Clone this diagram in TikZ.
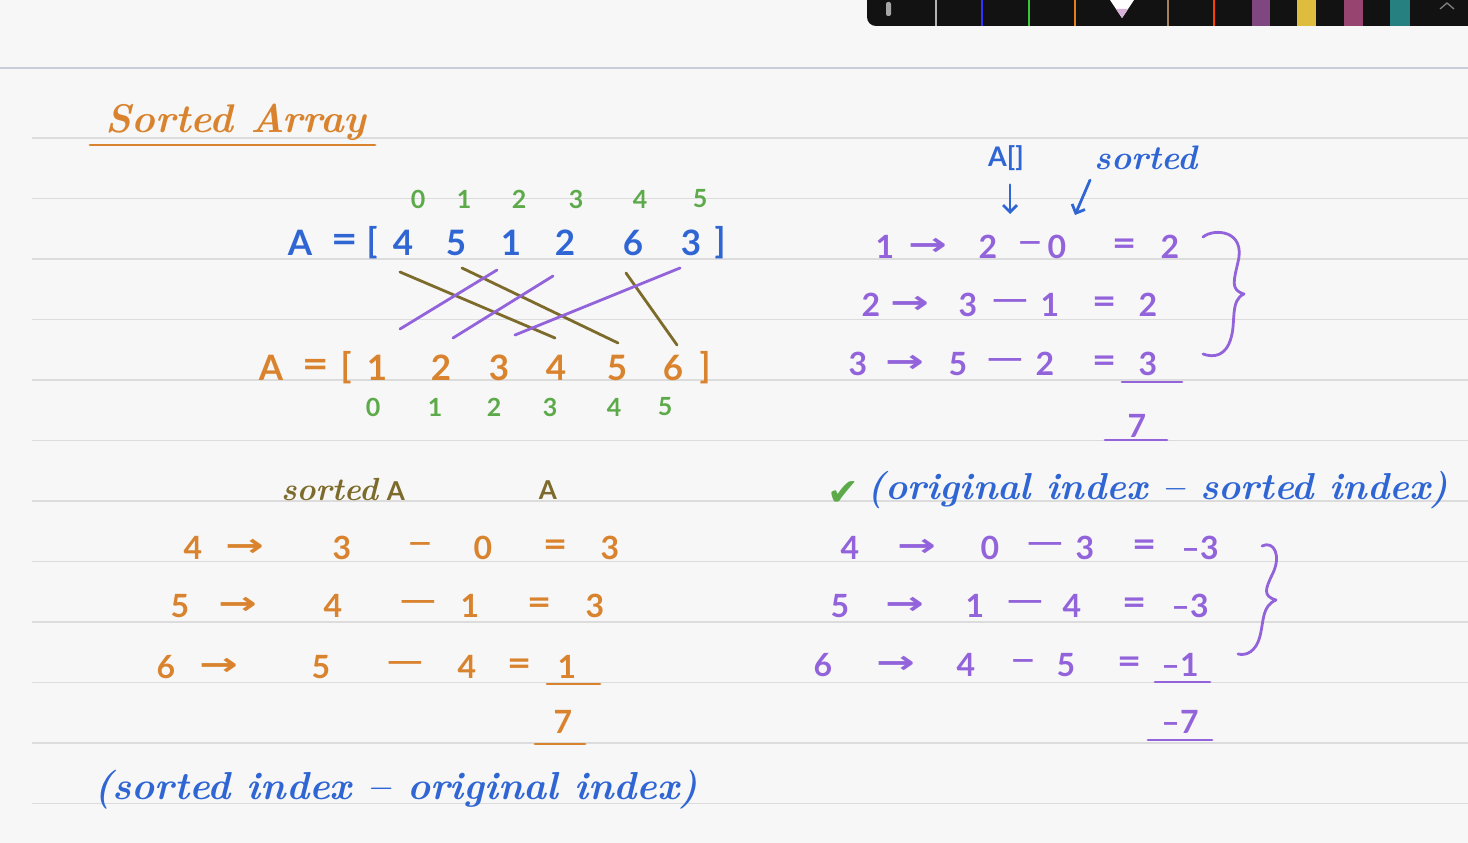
\documentclass[tikz,border=0pt]{standalone}
\usepackage{graphicx}
\usepackage{fontspec}
\newfontfamily\hw{Lato}
\newfontfamily\symf{DejaVu Sans}
\usetikzlibrary{arrows.meta}
\definecolor{bgc}{HTML}{F7F7F7}
\definecolor{rulec}{HTML}{DCDCDC}
\definecolor{topc}{HTML}{C9CCD9}
\definecolor{hblue}{HTML}{2F66D4}
\definecolor{horange}{HTML}{D9832E}
\definecolor{hgreen}{HTML}{5DAA4B}
\definecolor{hpurple}{HTML}{9263DA}
\definecolor{holive}{HTML}{7C6B2B}
\newcommand\harr{\scalebox{1.45}[1]{\symf →}}
\newcommand\hdsh{\scalebox{1.5}[1]{–}}
\newcommand\hDsh{\scalebox{1.5}[1]{—}}
\newcommand\heq{\scalebox{1.3}[1.1]{=}}
\tikzset{
  num/.style={font=\hw\bfseries\fontsize{32}{36}\selectfont, inner sep=0pt},
  big/.style={font=\hw\bfseries\fontsize{35}{40}\selectfont, inner sep=0pt},
  idx/.style={font=\hw\bfseries\fontsize{25}{30}\selectfont, inner sep=0pt, text=hgreen},
  curs/.style={font=\bfseries\itshape\fontsize{#1}{#1}\selectfont, inner sep=0pt},
  ul/.style={line width=2.8pt, line cap=round},
  strike/.style={line width=2.8pt, line cap=round},
  brace/.style={line width=2.8pt, line cap=round, line join=round},
  barrow/.style={line width=2.8pt, line cap=round, hblue, -{Straight Barb[length=7pt,width=14pt,line width=2.8pt]}},
}
\begin{document}
\begin{tikzpicture}[x=1pt,y=-1pt]
\useasboundingbox (0,0) rectangle (1468,843);
\fill[bgc] (0,0) rectangle (1468,843);
\draw[topc, line width=1.2pt] (0,68) -- (1468,68);
\foreach \k in {0,...,11} \draw[rulec, line width=1.2pt] (32,{138+60.5*\k}) -- (1468,{138+60.5*\k});
% toolbar
\fill[black!93, rounded corners=9pt] (867,-12) rectangle (1480,26);
\fill[gray!70, rounded corners=2pt] (886,2) rectangle (891,16);
\foreach \x/\c in {936/gray!60, 982/blue!80!white, 1029/green!55!gray, 1075/orange!80!gray, 1168/brown!60!gray, 1214/red!50!orange} \draw[\c, line width=1.3pt] (\x,0) -- (\x,26);
\fill[white] (1110,0) -- (1134,0) -- (1122,18) -- cycle;
\fill[violet!30] (1116,9) -- (1128,9) -- (1122,18) -- cycle;
\fill[violet!45!gray] (1252,0) rectangle (1270,26);
\fill[yellow!45!brown] (1297,0) rectangle (1316,26);
\fill[magenta!55!black] (1344,0) rectangle (1363,26);
\fill[teal!70!gray] (1390,0) rectangle (1410,26);
\draw[gray, line width=1.3pt] (1440,9) -- (1447,3) -- (1454,9);
% title
\node[curs=40, text=horange] (title) at (236,122) {Sorted Array};
\draw[ul, horange] (90,145) -- (375,145);
% top array
\foreach \x/\t/\n in {300/A/tA, 345/\heq/teq, 372/[/tlb, 403/4/t4, 456/5/t5, 511/1/t1, 565/2/t2, 633/6/t6, 691/3/t3, 720/]/trb}
  \node[big, text=hblue] (\n) at (\x,243) {\t};
\foreach \x/\t/\n in {418/0/ti0, 464/1/ti1, 519/2/ti2, 576/3/ti3, 640/4/ti4, 700/5/ti5}
  \node[idx] (\n) at (\x,199) {\t};
% sorted array
\foreach \x/\t/\n in {271/A/bA, 316/\heq/beq, 346/[/blb, 377/1/b1, 441/2/b2, 499/3/b3, 556/4/b4, 617/5/b5, 673/6/b6, 705/]/brb}
  \node[big, text=horange] (\n) at (\x,368) {\t};
\foreach \x/\t/\n in {373/0/bi0, 435/1/bi1, 494/2/bi2, 550/3/bi3, 614/4/bi4, 665/5/bi5}
  \node[idx] (\n) at (\x,407) {\t};
% mapping lines
\draw[strike, holive] ([shift={(-3,29)}]t4.center) -- ([shift={(-1,-30)}]b4.center);
\draw[strike, holive] ([shift={(6,25)}]t5.center) -- ([shift={(1,-25)}]b5.center);
\draw[strike, holive] ([shift={(-7,30)}]t6.center) -- ([shift={(4,-23)}]b6.center);
\draw[strike, hpurple] ([shift={(-14,27)}]t1.center) -- ([shift={(23,-39)}]b1.center);
\draw[strike, hpurple] ([shift={(-12,33)}]t2.center) -- ([shift={(12,-30)}]b2.center);
\draw[strike, hpurple] ([shift={(-11,25)}]t3.center) -- ([shift={(16,-33)}]b3.center);
% right top
\node[font=\hw\bfseries\fontsize{27}{30}\selectfont, inner sep=0pt, text=hblue] (aidx) at (1006,158) {A[]};
\node[curs=34, text=hblue] (srt) at (1146,158) {sorted};
\foreach \x/\t/\n in {885/1/p1a, 928/\harr/p1b, 988/2/p1c, 1030/\hdsh/p1d, 1057/0/p1e, 1125/\heq/p1f, 1170/2/p1g}
  \node[num, text=hpurple] (\n) at (\x,247) {\t};
\foreach \x/\t/\n in {871/2/p2a, 910/\harr/p2b, 968/3/p2c, 1010/\hDsh/p2d, 1050/1/p2e, 1105/\heq/p2f, 1148/2/p2g}
  \node[num, text=hpurple] (\n) at (\x,305) {\t};
\foreach \x/\t/\n in {858/3/p3a, 905/\harr/p3b, 958/5/p3c, 1005/\hDsh/p3d, 1045/2/p3e, 1105/\heq/p3f, 1148/3/p3g}
  \node[num, text=hpurple] (\n) at (\x,364) {\t};
\node[num, text=hpurple] (p4) at (1137,426) {7};
\draw[ul, hpurple] (1122,382) -- (1182,382);
\draw[ul, hpurple] (1105,440) -- (1167,440);
\draw[barrow] ([shift={(4,14)}]aidx.south) -- ([shift={(22,-33)}]p1c.center);
\draw[barrow] ([shift={(-56,10)}]srt.south) -- ([shift={(18,-32)}]p1e.center);
\draw[brace, hpurple] (1203,237) .. controls (1214,228) and (1246,230) .. (1238,262)
  .. controls (1234,280) and (1230,290) .. (1244,294)
  .. controls (1230,300) and (1236,322) .. (1231,338)
  .. controls (1226,356) and (1214,358) .. (1203,354);
% bottom left
\node[inner sep=0pt, text=holive] (sa) at (343,490) {{\bfseries\itshape\fontsize{32}{32}\selectfont sorted}\hspace{9pt}{\hw\bfseries\fontsize{26}{30}\selectfont A}};
\node[font=\hw\bfseries\fontsize{26}{30}\selectfont, inner sep=0pt, text=holive] (sa2) at (548,490) {A};
\foreach \x/\t/\n in {193/4/o1a, 245/\harr/o1b, 342/3/o1c, 420/\hdsh/o1d, 483/0/o1e, 556/\heq/o1f, 610/3/o1g}
  \node[num, text=horange] (\n) at (\x,548) {\t};
\foreach \x/\t/\n in {180/5/o2a, 238/\harr/o2b, 333/4/o2c, 418/\hDsh/o2d, 470/1/o2e, 540/\heq/o2f, 595/3/o2g}
  \node[num, text=horange] (\n) at (\x,606) {\t};
\foreach \x/\t/\n in {166/6/o3a, 219/\harr/o3b, 321/5/o3c, 405/\hDsh/o3d, 467/4/o3e, 520/\heq/o3f, 567/1/o3g}
  \node[num, text=horange] (\n) at (\x,667) {\t};
\node[num, text=horange] (o4) at (563,722) {7};
\draw[ul, horange] (547,684) -- (600,684);
\draw[ul, horange] (535,744) -- (585,744);
\node[curs=39, text=hblue] (si) at (396,790) {(sorted index -- original index)};
% bottom right
\node[font=\symf\fontsize{38}{42}\selectfont, inner sep=0pt, text=hgreen] (chk) at (843,494) {✔};
\node[curs=37.5, text=hblue] (oi) at (1158,490) {(original index -- sorted index)};
\foreach \x/\t/\n in {850/4/q1a, 917/\harr/q1b, 990/0/q1c, 1045/\hDsh/q1d, 1085/3/q1e, 1145/\heq/q1f, 1200/–3/q1g}
  \node[num, text=hpurple] (\n) at (\x,548) {\t};
\foreach \x/\t/\n in {840/5/q2a, 905/\harr/q2b, 975/1/q2c, 1025/\hDsh/q2d, 1072/4/q2e, 1135/\heq/q2f, 1190/–3/q2g}
  \node[num, text=hpurple] (\n) at (\x,606) {\t};
\foreach \x/\t/\n in {823/6/q3a, 896/\harr/q3b, 966/4/q3c, 1023/\hdsh/q3d, 1066/5/q3e, 1130/\heq/q3f, 1180/–1/q3g}
  \node[num, text=hpurple] (\n) at (\x,665) {\t};
\node[num, text=hpurple] (q4) at (1180,722) {–7};
\draw[ul, hpurple] (1155,682) -- (1210,682);
\draw[ul, hpurple] (1148,740) -- (1212,740);
\draw[brace, hpurple] (1262,546) .. controls (1274,540) and (1282,556) .. (1272,575)
  .. controls (1266,588) and (1262,596) .. (1276,600)
  .. controls (1262,606) and (1264,620) .. (1260,636)
  .. controls (1256,652) and (1246,656) .. (1238,654);
\end{tikzpicture}
\end{document}
